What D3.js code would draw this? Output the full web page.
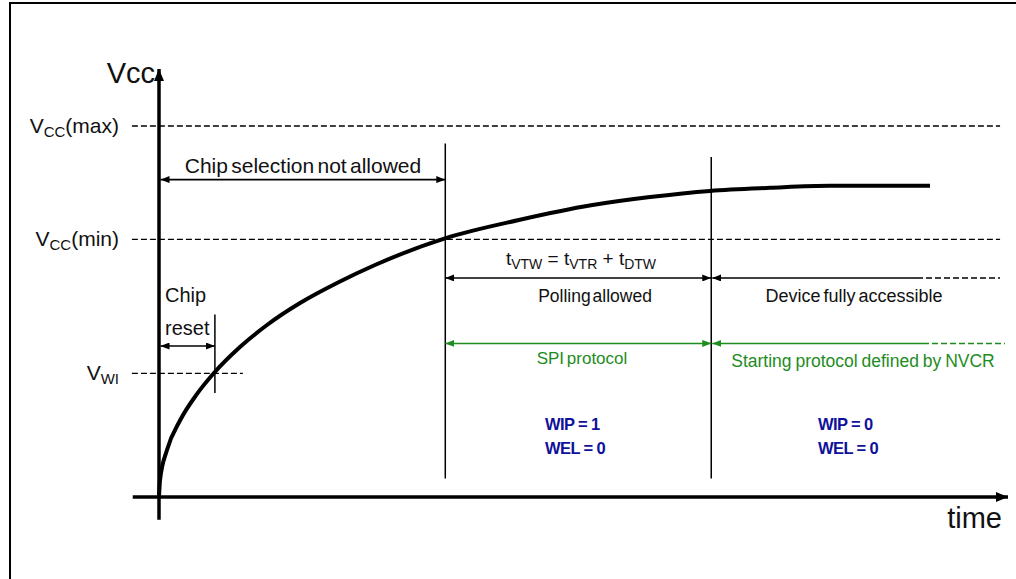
<!DOCTYPE html>
<html>
<head>
<meta charset="utf-8">
<script src="https://cdn.jsdelivr.net/npm/d3@7"></script>
<style>
	body { margin: 0; background: #fff; }
	svg { display: block; font-family: 'Liberation Sans', Arial, sans-serif; }
</style>
</head>
<body>
<svg id="chart" width="1016" height="579"></svg>
<script>
'use strict'

// power-up curve, time (a.u.) vs Vcc (V)
var curveTime = [0, 0.12, 0.94, 2.48, 4.49, 6.49, 9.56, 12.75, 16.65, 21.25, 25.5, 33.77, 42.62, 51.0, 57.97, 65.05, 72.14, 79.22, 91.03];
var curveVcc  = [0, 0.165, 0.456, 0.742, 1.0, 1.203, 1.455, 1.669, 1.882, 2.086, 2.251, 2.51, 2.69, 2.83, 2.91, 2.97, 3.00, 3.02, 3.02];

// threshold levels
var levelNames = ['max', 'min', 'WI'];
var levelVcc   = [3.6, 2.5, 1.2];
var levelEnd   = [99.3, 99.3, 9.9];

// time markers
var markerNames = ['reset', 'VTR', 'DTW'];
var markerTime  = [6.6, 33.8, 65.2];

var size = { width: 1016, height: 579 };
var svg = d3.select('#chart');

var xScale = d3.scaleLinear().domain([0, 100]).range([159, 1006]);
var yScale = d3.scaleLinear().domain([0, 4]).range([497, 497 - 4 * 103.06]);

var green = '#1e8c1e', blue = '#10109c', ink = '#111';

// frame
svg.append('rect')
	.attr('x', 10).attr('y', 3)
	.attr('width', 1020).attr('height', 600)
	.attr('fill', 'none').attr('stroke', '#000').attr('stroke-width', 2);

// arrow markers
var defs = svg.append('defs');
function marker(id, color, w, h){
	defs.append('marker')
		.attr('id', id)
		.attr('viewBox', `0 0 ${w} ${h}`)
		.attr('refX', w).attr('refY', h / 2)
		.attr('markerWidth', w).attr('markerHeight', h)
		.attr('markerUnits', 'userSpaceOnUse')
		.attr('orient', 'auto-start-reverse')
		.append('path')
		.attr('d', `M0,0L${w},${h/2}L0,${h}Z`)
		.attr('fill', color);
}
marker('ah', '#000', 9, 7);
marker('ahg', green, 9, 7);
marker('axh', '#000', 12, 10);

// dashed threshold levels
svg.append('g')
	.selectAll('line')
	.data(levelNames)
	.enter()
	.append('line')
	.attr('x1', xScale(-3.2))
	.attr('x2', function(d, i){ return xScale(levelEnd[i]); })
	.attr('y1', function(d, i){ return yScale(levelVcc[i]); })
	.attr('y2', function(d, i){ return yScale(levelVcc[i]); })
	.attr('stroke', '#000')
	.attr('stroke-width', 1.4)
	.attr('stroke-dasharray', '6,3');

// level labels
var labels = svg.append('g')
	.selectAll('text')
	.data(levelNames)
	.enter()
	.append('text')
	.attr('x', 119)
	.attr('y', function(d, i){ return yScale(levelVcc[i]) + 7; })
	.attr('text-anchor', 'end')
	.attr('font-size', 21)
	.attr('fill', ink);
labels.append('tspan').text('V');
labels.append('tspan')
	.attr('font-size', 15)
	.attr('dy', 4)
	.text(function(d){ return d === 'WI' ? 'WI' : 'CC'; });
labels.append('tspan')
	.attr('dy', -4)
	.text(function(d){ return d === 'WI' ? '' : `(${d})`; });

// vertical marker lines
var vLines = [
	{ t: markerTime[0], v1: 1.77, v2: 1.01 },
	{ t: markerTime[1], v1: 3.43, v2: 0.18 },
	{ t: markerTime[2], v1: 3.30, v2: 0.18 }
];
svg.append('g')
	.selectAll('line')
	.data(vLines)
	.enter()
	.append('line')
	.attr('x1', function(d){ return xScale(d.t); })
	.attr('x2', function(d){ return xScale(d.t); })
	.attr('y1', function(d){ return yScale(d.v1); })
	.attr('y2', function(d){ return yScale(d.v2); })
	.attr('stroke', '#000')
	.attr('stroke-width', 1.5);

// curve
var line = d3.line()
	.x(function(d, i){ return xScale(curveTime[i]); })
	.y(function(d, i){ return yScale(curveVcc[i]); })
	.curve(d3.curveMonotoneX);

svg.append('path')
	.attr('d', line(curveTime))
	.attr('fill', 'none')
	.attr('stroke', '#000')
	.attr('stroke-width', 4);

// axes
svg.append('line')
	.attr('x1', xScale(0)).attr('x2', xScale(0))
	.attr('y1', yScale(-0.22)).attr('y2', 69)
	.attr('stroke', '#000').attr('stroke-width', 3.5)
	.attr('marker-end', 'url(#axh)');
svg.append('line')
	.attr('x1', xScale(-3.1)).attr('x2', 1008)
	.attr('y1', yScale(0)).attr('y2', yScale(0))
	.attr('stroke', '#000').attr('stroke-width', 3.5)
	.attr('marker-end', 'url(#axh)');

svg.append('text')
	.attr('x', 155).attr('y', 83)
	.attr('text-anchor', 'end')
	.attr('font-size', 29)
	.attr('fill', ink)
	.text('Vcc');
svg.append('text')
	.attr('x', 1002).attr('y', 528)
	.attr('text-anchor', 'end')
	.attr('font-size', 29)
	.attr('fill', ink)
	.text('time');

// annotation arrows
function arrow(x1, x2, yv, color, both, id){
	svg.append('line')
		.attr('x1', x1).attr('x2', x2)
		.attr('y1', yScale(yv)).attr('y2', yScale(yv))
		.attr('stroke', color).attr('stroke-width', 1.6)
		.attr('marker-start', both !== 'end' ? `url(#${id})` : null)
		.attr('marker-end', both !== 'start' ? `url(#${id})` : null);
}
function dash(x1, x2, yv, color){
	svg.append('line')
		.attr('x1', x1).attr('x2', x2)
		.attr('y1', yScale(yv)).attr('y2', yScale(yv))
		.attr('stroke', color).attr('stroke-width', 1.4)
		.attr('stroke-dasharray', '6,3');
}

var x0 = xScale(0) + 1.5, x1 = xScale(markerTime[1]), x2 = xScale(markerTime[2]);

arrow(x0, x1, 3.08, '#000', 'both', 'ah');
arrow(x0, xScale(markerTime[0]), 1.465, '#000', 'both', 'ah');

arrow(x1, x2, 2.125, '#000', 'both', 'ah');
arrow(x2 + 1, 917, 2.125, '#000', 'start', 'ah');
dash(917, 1000, 2.125, '#000');

arrow(x1, x2, 1.49, green, 'both', 'ahg');
arrow(x2 + 1, 923, 1.49, green, 'start', 'ahg');
dash(923, 1005, 1.49, green);

// annotation text
function label(x, y, str, opts){
	opts = opts || {};
	return svg.append('text')
		.attr('x', x).attr('y', y)
		.attr('text-anchor', opts.anchor || 'middle')
		.attr('font-size', opts.size || 18)
		.attr('font-weight', opts.weight || null)
		.attr('word-spacing', opts.ws || null)
		.attr('letter-spacing', opts.ls || null)
		.attr('fill', opts.color || ink)
		.text(str);
}

label(303, 173, 'Chip selection not allowed', { size: 21, ws: -2.5 });
label(165, 302, 'Chip', { anchor: 'start', size: 20 });
label(165, 335, 'reset', { anchor: 'start', size: 20 });

var tvtw = svg.append('text')
	.attr('x', 581).attr('y', 265)
	.attr('text-anchor', 'middle')
	.attr('font-size', 19)
	.attr('fill', ink);
[['t', ''], ['VTW', 'sub'], [' = t', ''], ['VTR', 'sub'], [' + t', ''], ['DTW', 'sub']].forEach(function(p, i, arr){
	var prev = i > 0 ? arr[i - 1][1] : '';
	tvtw.append('tspan')
		.attr('font-size', p[1] === 'sub' ? 14 : 19)
		.attr('dy', p[1] === 'sub' ? 4 : (prev === 'sub' ? -4 : 0))
		.text(p[0]);
});

label(595, 302, 'Polling allowed', { size: 17.5, ws: -3 });
label(854, 302, 'Device fully accessible', { size: 18, ws: -2 });
label(582, 364, 'SPI protocol', { size: 17, ws: -2, color: green });
label(863, 367, 'Starting protocol defined by NVCR', { size: 17.5, ws: -1, color: green });

var states = [
	{ x: 545, wip: 1, wel: 0 },
	{ x: 818, wip: 0, wel: 0 }
];
states.forEach(function(s){
	label(s.x, 430, `WIP = ${s.wip}`, { anchor: 'start', size: 16.5, ls: -0.6, weight: 'bold', color: blue });
	label(s.x, 454, `WEL = ${s.wel}`, { anchor: 'start', size: 16.5, ls: -0.6, weight: 'bold', color: blue });
});
</script>
</body>
</html>
